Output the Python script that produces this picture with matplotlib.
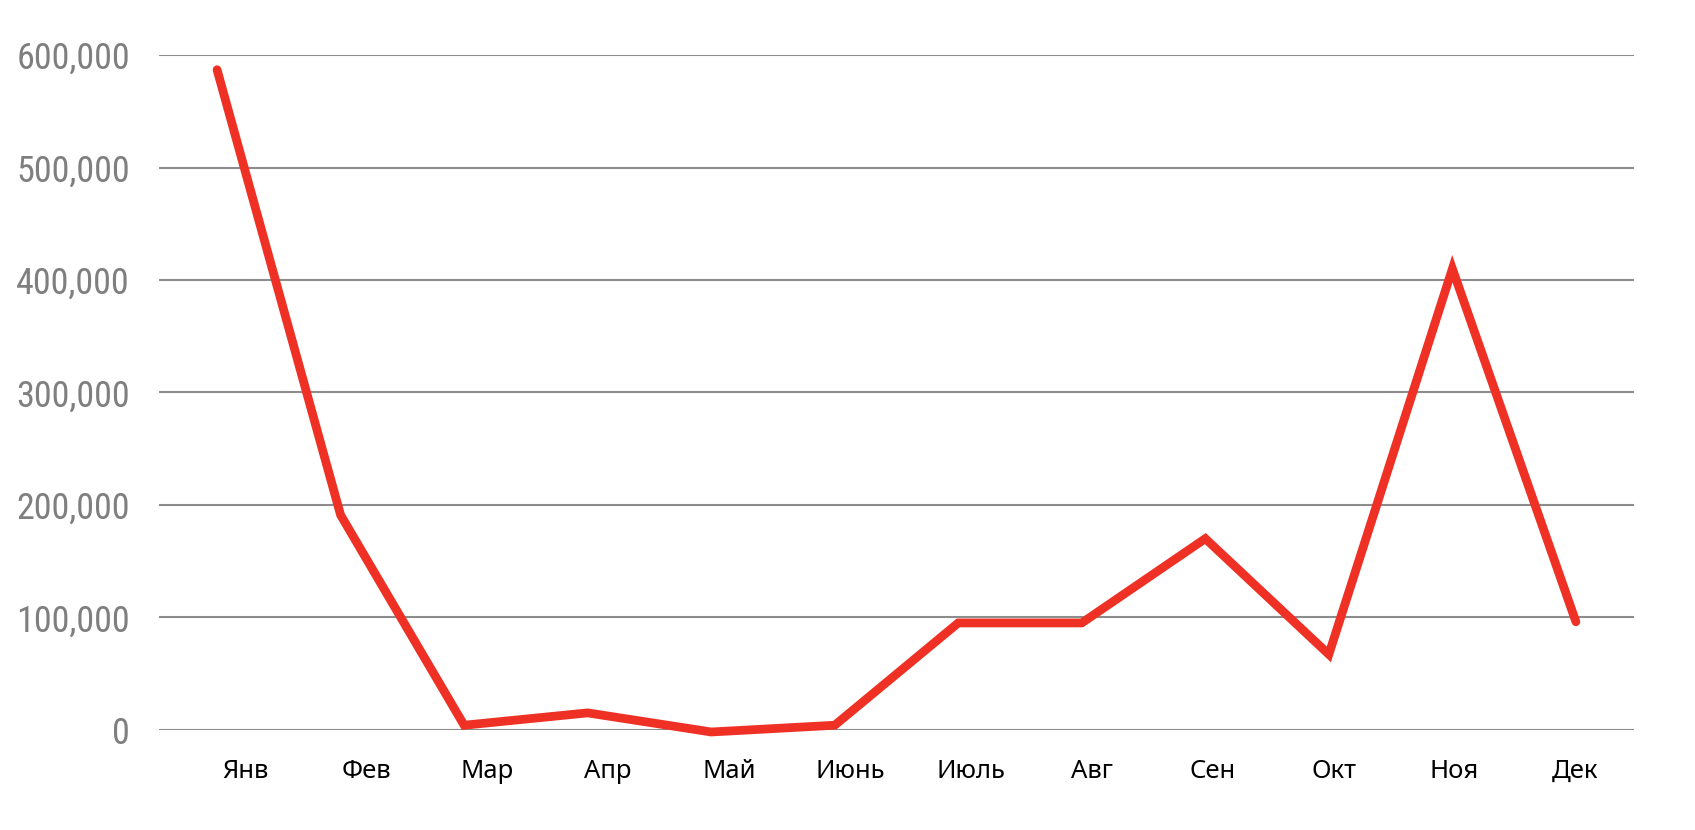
import matplotlib.pyplot as plt
from matplotlib import font_manager
from matplotlib.ticker import FuncFormatter
import numpy as np

months = ["Янв", "Фев", "Мар", "Апр", "Май", "Июнь",
          "Июль", "Авг", "Сен", "Окт", "Ноя", "Дек"]
values = [587000, 191000, 4000, 15000, -2000, 4000,
          95000, 95000, 170000, 67000, 410000, 96000]
yticks = [0, 100000, 200000, 300000, 400000, 500000, 600000]

# pick a narrow font for the y labels if one is installed
fonts = font_manager.fontManager.ttflist
names = {f.name for f in fonts}
ystretch = "normal"
yfont = "Roboto"
ysize = 22
for n in ["Liberation Sans Narrow", "Roboto Condensed", "Open Sans Condensed"]:
    if n in names:
        yfont, ysize = n, 26
        break
else:
    if any(f.name == "DejaVu Sans" and f.stretch == "condensed" for f in fonts):
        yfont, ystretch, ysize = "DejaVu Sans", "condensed", 24

fig = plt.figure(figsize=(16.95, 8.3), dpi=100)
ax = fig.add_axes([0.0938, 0.1208, 0.8702, 0.8128])

x = np.arange(len(months))
ax.plot(x, values, color="#EE3124", lw=6.3, solid_capstyle="round",
        solid_joinstyle="miter", clip_on=False, zorder=3)

ax.set_xlim(-0.47, 11.47)
ax.set_ylim(0, 600000)
ax.set_yticks(yticks)
ax.yaxis.set_major_formatter(FuncFormatter(lambda v, p: f"{v:,.0f}"))
ax.grid(axis="y", color="#8c8c8c", lw=1.5)
ax.set_axisbelow(True)

# labels sit a little off the points, like in the original
ax.set_xticks(x * 0.979 + 0.227)
ax.set_xticklabels(months)

for s in ax.spines.values():
    s.set_visible(False)
ax.tick_params(axis="both", length=0)
ax.tick_params(axis="y", pad=21, labelsize=ysize, labelcolor="#7f7f7f")
ax.tick_params(axis="x", pad=21, labelsize=18.5, labelcolor="black")
for t in ax.get_yticklabels():
    t.set_family([yfont, "DejaVu Sans"])
    t.set_stretch(ystretch)
for t in ax.get_xticklabels():
    t.set_family(["Noto Sans", "DejaVu Sans"])

fig.savefig("out.png", dpi=100)
